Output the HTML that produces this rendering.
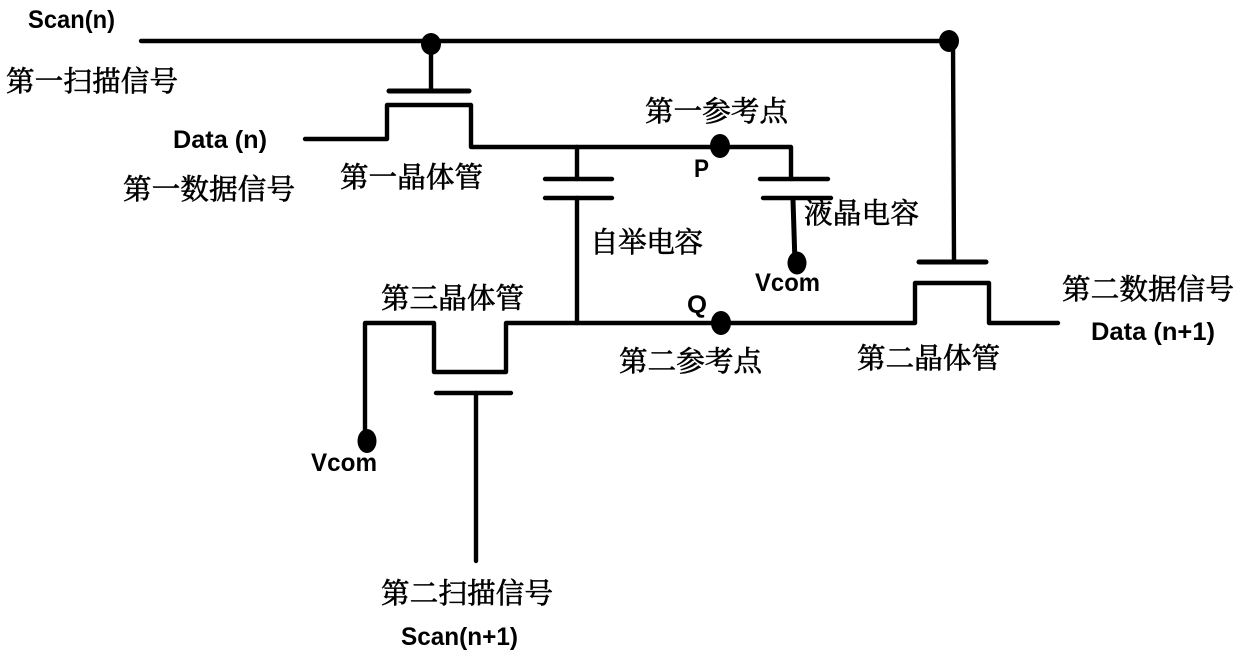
<!DOCTYPE html>
<html>
<head>
<meta charset="utf-8">
<style>
html,body{margin:0;padding:0;background:#fff;width:1240px;height:655px;overflow:hidden}
svg{display:block}
text{font-family:"Liberation Serif","Noto Serif CJK SC",serif;font-size:28.5px;fill:#000;stroke:#000;stroke-width:.65}
.l{font-family:"Liberation Sans","Noto Sans CJK SC",sans-serif;font-weight:bold;font-size:25px;stroke:none}
path,line{stroke:#000;stroke-width:4.4;fill:none;stroke-linecap:round;stroke-linejoin:round}
ellipse{fill:#000;stroke:none}
</style>
</head>
<body>
<svg width="1240" height="655" viewBox="0 0 1240 655" xmlns="http://www.w3.org/2000/svg">
<!-- Scan line -->
<line x1="141" y1="41" x2="950" y2="41"/>
<line x1="431" y1="44" x2="431" y2="90"/>
<line x1="953" y1="41" x2="954" y2="262"/>
<ellipse cx="431" cy="44" rx="10" ry="11"/>
<ellipse cx="949" cy="41" rx="10" ry="11"/>
<!-- T1 -->
<line style="stroke-width:5" x1="389" y1="91" x2="469" y2="91"/>
<path d="M305 139H387V105H471V147H720"/>
<!-- P -->
<ellipse cx="720" cy="146" rx="10" ry="12"/>
<path d="M720 147H791V179"/>
<line x1="760" y1="179" x2="828" y2="179"/>
<line x1="763" y1="198" x2="831" y2="198"/>
<line style="stroke-width:5" x1="793" y1="200" x2="795" y2="263"/>
<ellipse cx="797" cy="263" rx="9.5" ry="11.5"/>
<!-- Cst -->
<line x1="577" y1="147" x2="577" y2="179"/>
<line x1="545" y1="179" x2="612" y2="179"/>
<line x1="545" y1="198" x2="612" y2="198"/>
<line x1="577" y1="198" x2="577" y2="323"/>
<!-- T3 and rail -->
<path d="M365 430V323H434V372H506V323H915V283H989V323H1058"/>
<line x1="436" y1="393" x2="511" y2="393"/>
<line x1="476" y1="393" x2="476" y2="561"/>
<ellipse cx="367" cy="441" rx="9.5" ry="12"/>
<ellipse cx="721" cy="323" rx="10" ry="12"/>
<!-- T2 gate -->
<line style="stroke-width:5" x1="919" y1="262" x2="986" y2="262"/>
<!-- Labels -->
<text class="l" x="28" y="28" textLength="87" lengthAdjust="spacingAndGlyphs">Scan(n)</text>
<text x="6" y="91" textLength="172" lengthAdjust="spacing">第一扫描信号</text>
<text class="l" x="173" y="148" textLength="94" lengthAdjust="spacingAndGlyphs">Data (n)</text>
<text x="123" y="199" textLength="172" lengthAdjust="spacing">第一数据信号</text>
<text x="340" y="187" textLength="143" lengthAdjust="spacing">第一晶体管</text>
<text x="645" y="121" textLength="143" lengthAdjust="spacing">第一参考点</text>
<text class="l" x="694" y="177" textLength="15" lengthAdjust="spacingAndGlyphs">P</text>
<text x="804" y="223" textLength="115" lengthAdjust="spacing">液晶电容</text>
<text x="590" y="252" textLength="113" lengthAdjust="spacing">自举电容</text>
<text class="l" x="755" y="291" textLength="65" lengthAdjust="spacingAndGlyphs">Vcom</text>
<text x="381" y="308" textLength="143" lengthAdjust="spacing">第三晶体管</text>
<text class="l" x="687" y="313" textLength="20" lengthAdjust="spacingAndGlyphs">Q</text>
<text x="619" y="371" textLength="143" lengthAdjust="spacing">第二参考点</text>
<text x="857" y="368" textLength="143" lengthAdjust="spacing">第二晶体管</text>
<text x="1062" y="299" textLength="172" lengthAdjust="spacing">第二数据信号</text>
<text class="l" x="1091" y="340" textLength="124" lengthAdjust="spacingAndGlyphs">Data (n+1)</text>
<text class="l" x="311" y="471" textLength="66" lengthAdjust="spacingAndGlyphs">Vcom</text>
<text x="381" y="603" textLength="172" lengthAdjust="spacing">第二扫描信号</text>
<text class="l" x="401" y="645" textLength="117" lengthAdjust="spacingAndGlyphs">Scan(n+1)</text>
</svg>
</body>
</html>
